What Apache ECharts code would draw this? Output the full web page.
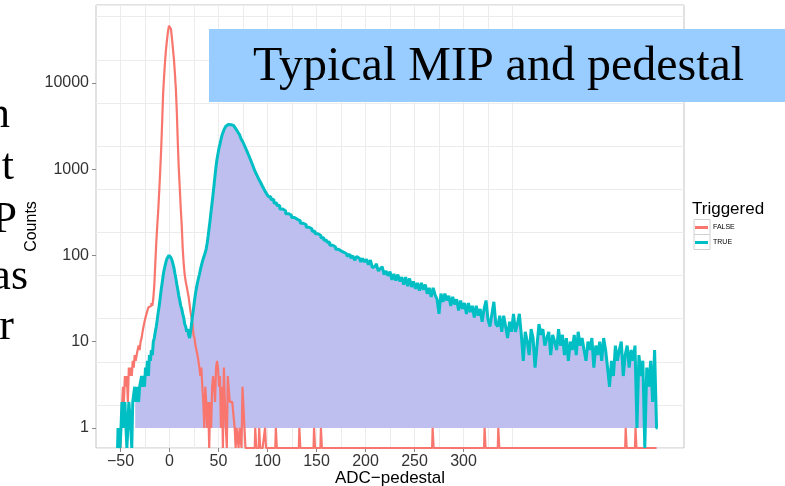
<!DOCTYPE html>
<html>
<head>
<meta charset="utf-8">
<script src="https://cdn.jsdelivr.net/npm/echarts@6.0.0/dist/echarts.min.js"></script>
<style>
  html, body { margin: 0; padding: 0; background: #fff; }
  #chart { width: 785px; height: 486px; }
</style>
</head>
<body>
<div id="chart"></div>
<script>
const Y_MIN = 0.585;   // panel floor, zero counts are drawn here (ggplot log(0) = -Inf)
const Y_MAX = 80000;

const xTickLabels = [-50, 0, 50, 100, 150, 200, 250, 300];
const xGridValues = [-50, -25, 0, 25, 50, 75, 100, 125, 150, 175, 200, 225, 250, 275, 300, 325, 350];
const yTickLabels = [1, 10, 100, 1000, 10000];
const seriesNames = ['FALSE', 'TRUE'];
const slideWords = ['n', 't', 'P', 'as', 'r'];

// [ADC-pedestal, counts]
const falseCounts = [
    [-50, 0], [-49, 1], [-48, 1], [-47, 3], [-46, 2], [-45, 4], [-44, 3], [-43, 4], [-42, 2], [-41, 5],
    [-40, 4], [-39, 5], [-38, 4], [-37, 6], [-36, 5], [-35, 7], [-34, 6], [-33, 7], [-32, 8], [-31, 9],
    [-30, 8], [-29, 10], [-28, 11], [-27, 13], [-26, 15], [-25, 17], [-24, 19], [-23, 21], [-22, 23], [-21, 25],
    [-20, 24], [-19, 26], [-18, 28], [-17, 26], [-16, 32], [-15, 45], [-14, 80], [-13, 140], [-12, 220], [-11, 330],
    [-10, 550], [-9, 950], [-8, 1700], [-7, 3500], [-6, 7500], [-5, 12000], [-4, 18000], [-3, 25000], [-2, 32000], [-1, 40000],
    [0, 46000], [1, 48000], [2, 42000], [3, 33000], [4, 25000], [5, 19000], [6, 13000], [7, 8500], [8, 4500], [9, 2000],
    [10, 1000], [11, 600], [12, 350], [13, 220], [14, 120], [15, 80], [16, 60], [17, 50], [18, 44], [19, 38],
    [20, 33], [21, 27], [22, 22], [23, 19], [24, 16], [25, 12], [26, 11], [27, 9], [28, 8], [29, 7],
    [30, 6], [31, 5], [32, 4], [33, 5], [34, 3], [35, 2], [36, 1], [37, 3], [38, 2], [39, 1],
    [40, 2], [41, 0], [42, 2], [43, 1], [44, 3], [45, 4], [46, 3], [47, 2], [48, 5], [49, 6],
    [50, 5], [51, 3], [52, 4], [53, 1], [54, 3], [55, 0], [56, 5], [57, 2], [58, 1], [59, 0],
    [60, 4], [61, 4], [62, 2], [64, 2], [66, 2], [67, 1], [68, 0], [69, 1], [70, 1], [71, 0],
    [72, 1], [73, 1], [74, 0], [75, 3], [76, 3], [77, 1], [78, 0],
    [87, 0], [88, 1], [89, 0], [91, 0], [92, 1], [93, 0], [97, 0], [98, 1], [99, 0],
    [108, 0], [109, 1], [110, 0], [132, 0], [133, 1], [134, 0], [147, 0], [148, 1], [149, 0],
    [154, 0], [155, 1], [156, 0], [268, 0], [269, 1], [270, 0], [321, 0], [322, 1], [323, 0],
    [335, 0], [336, 1], [337, 0], [465, 0], [466, 1], [467, 0], [475, 0], [476, 1], [477, 0], [497, 0]
];

const trueCounts = [
    [-53, 0], [-52, 1], [-51, 1], [-50, 0], [-49, 1], [-48, 2], [-47, 2], [-46, 1], [-45, 2], [-44, 2],
    [-43, 0], [-42, 1], [-41, 2], [-40, 2], [-39, 1], [-38, 0], [-37, 2], [-36, 2], [-35, 3], [-34, 2],
    [-33, 3], [-32, 3], [-31, 2], [-30, 3], [-29, 3], [-28, 4], [-27, 3], [-26, 4], [-25, 3], [-24, 5],
    [-23, 4], [-22, 6], [-21, 4], [-20, 7], [-19, 6], [-18, 8], [-17, 7], [-16, 10], [-15, 11], [-14, 13],
    [-13, 15], [-12, 18], [-11, 22], [-10, 26], [-9, 32], [-8, 40], [-7, 48], [-6, 58], [-5, 68], [-4, 76],
    [-3, 85], [-2, 92], [-1, 97], [0, 100], [1, 98], [2, 94], [3, 88], [4, 80], [5, 72], [6, 62],
    [7, 54], [8, 46], [9, 40], [10, 34], [11, 30], [12, 26], [13, 24], [14, 21], [15, 19], [16, 16],
    [17, 15], [18, 13], [19, 14], [20, 12], [21, 11], [22, 13], [23, 16], [24, 20], [25, 24], [26, 30],
    [27, 36], [28, 42], [29, 48], [30, 54], [31, 60], [32, 68], [33, 76], [34, 84], [35, 92], [36, 100],
    [37, 108], [38, 120], [39, 140], [40, 170], [41, 210], [42, 260], [43, 330], [44, 410], [45, 520], [46, 660],
    [47, 850], [48, 1080], [49, 1300], [50, 1520], [51, 1750], [52, 1950], [53, 2200], [54, 2450], [55, 2650], [56, 2850],
    [57, 3000], [58, 3150], [59, 3250], [60, 3300], [61, 3320], [62, 3300], [63, 3280], [64, 3250], [65, 3200], [66, 3150],
    [67, 3050], [68, 2950], [69, 2850], [70, 2720], [71, 2620], [72, 2500], [74, 2250], [76, 2050], [78, 1820], [80, 1620],
    [82, 1430], [84, 1260], [86, 1100], [88, 960], [90, 860], [92, 770], [94, 700], [96, 630], [98, 570], [100, 520],
    [102, 480], [105, 445], [108, 405], [111, 380], [114, 345], [117, 330], [120, 305], [123, 292], [126, 276], [129, 262],
    [132, 252], [135, 236], [138, 226], [141, 212], [144, 202], [147, 190], [150, 178], [153, 170], [156, 160], [159, 150],
    [162, 142], [165, 131], [168, 125], [171, 118], [174, 112], [177, 108],
    [180, 104], [182, 98], [184, 103], [186, 93], [188, 99], [190, 88], [192, 97], [194, 92], [196, 84], [198, 92],
    [200, 84], [202, 90], [204, 78], [206, 88], [208, 72], [210, 75], [212, 80], [214, 66], [216, 70], [218, 74],
    [220, 60], [222, 66], [224, 58], [226, 65], [228, 52], [230, 61], [232, 51], [234, 60], [236, 50], [238, 56],
    [240, 46], [242, 56], [244, 44], [246, 54], [248, 43], [250, 50], [252, 41], [254, 48], [256, 39], [258, 48],
    [260, 40], [262, 46], [264, 36], [266, 42], [268, 33], [270, 42], [272, 35], [274, 31], [276, 21], [278, 36],
    [280, 29], [282, 36], [284, 30], [286, 34], [288, 26], [290, 33], [292, 27], [294, 31], [296, 23], [298, 30],
    [300, 24], [302, 28], [304, 21], [306, 28], [308, 22], [310, 26], [312, 19], [314, 26], [316, 20], [318, 24],
    [320, 17], [322, 24], [324, 30], [326, 18], [328, 15], [330, 21], [332, 29], [334, 16], [336, 15], [338, 20],
    [340, 13], [342, 20], [344, 15], [346, 11], [348, 17], [350, 13], [352, 21], [354, 13], [356, 16], [358, 21],
    [360, 12], [362, 6], [364, 13], [366, 10], [368, 7], [370, 14], [372, 11], [374, 5], [376, 9], [378, 16],
    [380, 12], [382, 14], [384, 9], [386, 11], [388, 13], [390, 7], [392, 12], [394, 10], [396, 8], [398, 14],
    [400, 9], [402, 12], [404, 7], [406, 11], [408, 6], [410, 10], [412, 8], [414, 12], [416, 7], [418, 13],
    [420, 9], [422, 11], [424, 8], [426, 6], [428, 10], [430, 8], [432, 11], [434, 5], [436, 9], [438, 7],
    [440, 10], [442, 6], [444, 11], [446, 8], [448, 5], [450, 3], [452, 6], [454, 4], [456, 9], [458, 6],
    [460, 8], [462, 10], [464, 4], [466, 7], [468, 9], [470, 5], [472, 8], [474, 6], [476, 9], [478, 1],
    [480, 7], [482, 4], [484, 6], [486, 0], [488, 5], [490, 3], [492, 6], [494, 2], [496, 8], [498, 1]
];

const toPlot = pts => pts.map(([x, c]) => [x, c > 0 ? c : Y_MIN]);
// shaded band under TRUE, from count 1 upward
const fillPts = trueCounts.filter(([x]) => x >= -35).map(([x, c]) => [x, Math.max(c, 1)]);

const chart = echarts.init(document.getElementById('chart'), null, { renderer: 'canvas' });

const font = 'Liberation Sans';
const serif = 'Liberation Serif';

const option = {
    backgroundColor: '#fff',
    animation: false,
    title: {
        text: 'Triggered',
        left: 692,
        top: 201,
        textStyle: { fontFamily: font, fontSize: 17, fontWeight: 'normal', color: '#000' },
        padding: 0
    },
    legend: {
        data: seriesNames.map(n => ({ name: n, icon: 'rect' })),
        orient: 'vertical',
        left: 695,
        top: 220,
        itemWidth: 13,
        itemHeight: 3,
        itemGap: 0,
        padding: 0,
        textStyle: { fontFamily: font, fontSize: 7, lineHeight: 15, color: '#000' }
    },
    grid: {
        left: 96,
        width: 588,
        top: 5,
        bottom: 38,
        outerBoundsMode: 'none',
        containLabel: false,
        show: true,
        borderColor: '#c4c4c4',
        borderWidth: 1,
        backgroundColor: '#fff'
    },
    xAxis: [{
        type: 'value',
        min: -75,
        max: 525,
        interval: 25,
        axisLine: { show: false, onZero: false },
        axisTick: { show: true, length: 0, customValues: xGridValues },
        axisLabel: { show: false },
        splitLine: { lineStyle: { color: '#ececec', width: 1 } }
    }, {
        type: 'value',
        min: -75,
        max: 525,
        position: 'bottom',
        axisLine: { show: false, onZero: false },
        axisTick: { show: true, length: 4, customValues: xTickLabels, lineStyle: { color: '#888' } },
        axisLabel: {
            customValues: xTickLabels,
            margin: 6,
            fontFamily: font,
            fontSize: 16,
            color: '#333',
            formatter: v => String(v).replace('-', '\u2212')
        },
        splitLine: { show: false },
        name: 'ADC\u2212pedestal',
        nameLocation: 'middle',
        nameGap: 22,
        nameMoveOverlap: false,
        nameTextStyle: { fontFamily: font, fontSize: 17, color: '#000' }
    }],
    yAxis: [{
        type: 'log',
        logBase: 10,
        min: Y_MIN,
        max: Y_MAX,
        interval: 0.5,
        position: 'left',
        axisLine: { show: false, onZero: false },
        axisTick: { show: false },
        axisLabel: { show: false },
        splitLine: { lineStyle: { color: '#ececec', width: 1 } }
    }, {
        type: 'log',
        logBase: 10,
        min: Y_MIN,
        max: Y_MAX,
        position: 'left',
        axisLine: { show: false, onZero: false },
        axisTick: { show: true, length: 4, customValues: yTickLabels, lineStyle: { color: '#888' } },
        axisLabel: {
            customValues: yTickLabels,
            margin: 7,
            fontFamily: font,
            fontSize: 16,
            color: '#333',
            formatter: v => String(v)
        },
        splitLine: { show: false },
        name: 'Counts',
        nameLocation: 'middle',
        nameRotate: 90,
        nameGap: 56,
        nameMoveOverlap: false,
        nameTextStyle: { fontFamily: font, fontSize: 16, color: '#000' }
    }],
    series: [{
        name: 'fill',
        type: 'line',
        step: 'middle',
        data: fillPts,
        showSymbol: false,
        symbol: 'none',
        silent: true,
        lineStyle: { width: 0, opacity: 0 },
        areaStyle: { color: '#bfbfef', opacity: 1, origin: 1 },
        z: 1
    }, {
        name: 'FALSE',
        type: 'line',
        step: 'middle',
        data: toPlot(falseCounts),
        symbol: 'none',
        itemStyle: { color: '#F8766D' },
        lineStyle: { color: '#F8766D', width: 2.2 },
        z: 2
    }, {
        name: 'TRUE',
        type: 'line',
        step: 'middle',
        data: toPlot(trueCounts),
        symbol: 'none',
        itemStyle: { color: '#00BFC4' },
        lineStyle: { color: '#00BFC4', width: 3 },
        z: 3
    }],
    graphic: [
        { type: 'rect', shape: { x: 694, y: 219.5, width: 16, height: 15 }, style: { fill: '#fff', stroke: '#d0d0d0', lineWidth: 1 }, z: 0 },
        { type: 'rect', shape: { x: 694, y: 234.5, width: 16, height: 15 }, style: { fill: '#fff', stroke: '#d0d0d0', lineWidth: 1 }, z: 0 },
        {
            type: 'rect',
            shape: { x: 209, y: 29, width: 576, height: 73 },
            style: { fill: '#99ccff' },
            z: 100
        },
        {
            type: 'text',
            x: 253,
            y: 67,
            style: {
                text: 'Typical MIP and pedestal',
                fontFamily: serif,
                fontSize: 48,
                fill: '#000',
                align: 'left',
                verticalAlign: 'middle'
            },
            z: 101
        },
        ...slideWords.map((w, i) => ({
            type: 'text',
            x: [10, 14, 17, 28, 14][i],
            y: [115, 167, 220, 277, 327][i],
            style: {
                text: w,
                fontFamily: serif,
                fontSize: 44,
                fill: '#000',
                align: 'right',
                verticalAlign: 'middle'
            },
            z: 101
        }))
    ]
};

chart.setOption(option);
</script>
</body>
</html>
